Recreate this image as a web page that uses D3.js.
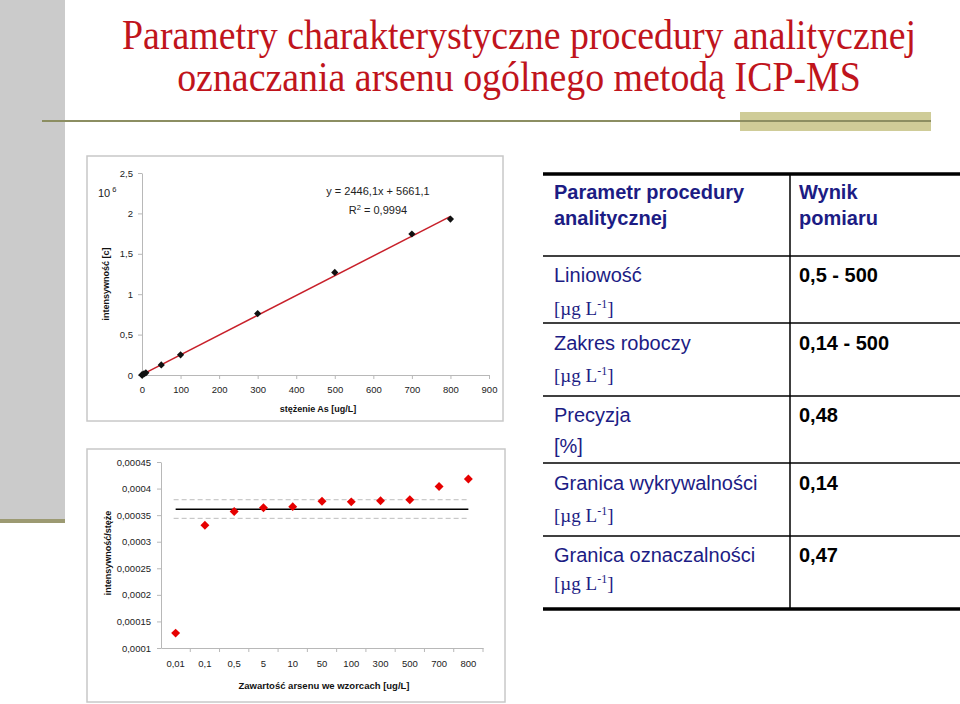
<!DOCTYPE html>
<html>
<head>
<meta charset="utf-8">
<script src="https://cdn.jsdelivr.net/npm/d3@7"></script>
<style>
  body { margin: 0; background: #fff; }
  svg { display: block; }
  .axis path, .axis line { stroke: #b8b8b8; }
  .axis text { font-family: "Liberation Sans", Arial, sans-serif; fill: #222; }
</style>
</head>
<body>
<svg id="slide" width="960" height="704"></svg>
<script>
// title
var titleLines = ['Parametry charakterystyczne procedury analitycznej', 'oznaczania arsenu ogólnego metodą ICP-MS'];
var titleWidth = 794;

// calibration curve (intensity in 10^6 c)
var calConc = [0.01, 0.1, 0.5, 5, 10, 50, 100, 300, 500, 700, 800];
var calIntensity = [0.0001, 0.0003, 0.0014, 0.0137, 0.0275, 0.125, 0.25, 0.76, 1.27, 1.745, 1.93];
var fitSlope = 2446.1, fitIntercept = 5661.1;
var topXTicks = [0, 100, 200, 300, 400, 500, 600, 700, 800, 900];
var topYTicks = [0, 0.5, 1, 1.5, 2, 2.5];

// response ratio chart
var ratioCategories = ['0,01', '0,1', '0,5', '5', '10', '50', '100', '300', '500', '700', '800'];
var ratioValues = [0.000128, 0.000331, 0.000357, 0.000364, 0.000366, 0.000376, 0.000375, 0.000377, 0.000379, 0.000404, 0.000418];
var ratioMean = 0.000361;
var ratioLimits = [0.000344, 0.000379];
var ratioYTicks = [0.0001, 0.00015, 0.0002, 0.00025, 0.0003, 0.00035, 0.0004, 0.00045];

// table
var tableHeader = [['Parametr procedury', 'analitycznej'], ['Wynik', 'pomiaru']];
var tableNames = ['Liniowość', 'Zakres roboczy', 'Precyzja', 'Granica wykrywalności', 'Granica oznaczalności'];
var tableUnits = ['ug', 'ug', '%', 'ug', 'ug'];
var tableValues = ['0,5 - 500', '0,14 - 500', '0,48', '0,14', '0,47'];

var svg = d3.select('#slide');
var sans = '"Liberation Sans", Arial, sans-serif';
var serif = '"Liberation Serif", "Times New Roman", serif';
var comma = function (d) { return String(+d.toFixed(6)).replace('.', ','); };

// slide decoration
svg.append('rect').attr('x', 0).attr('y', 0).attr('width', 65).attr('height', 519).attr('fill', '#cbcbcb');
svg.append('rect').attr('x', 0).attr('y', 519).attr('width', 65).attr('height', 4).attr('fill', '#9c9a72');
svg.append('rect').attr('x', 740).attr('y', 112).attr('width', 191).attr('height', 19).attr('fill', '#cfcc98');
svg.append('line').attr('x1', 42).attr('x2', 931).attr('y1', 121).attr('y2', 121)
    .attr('stroke', '#8c8e62').attr('stroke-width', 2);

// title: one text, two lines, squeezed horizontally
var tg = svg.append('g');
var title = tg.append('text')
    .attr('text-anchor', 'middle')
    .attr('font-family', serif).attr('font-size', 43).attr('fill', '#c0141c');
title.selectAll('tspan').data(titleLines).enter().append('tspan')
    .attr('x', 0).attr('dy', function (d, i) { return i === 0 ? 0 : 42; })
    .text(function (d) { return d; });
var w0 = title.select('tspan').node().getComputedTextLength();
tg.attr('transform', 'translate(519,49) scale(' + (titleWidth / w0) + ',1)');

// ---------- top chart: calibration ----------
svg.append('rect').attr('x', 87).attr('y', 156).attr('width', 416).attr('height', 265)
    .attr('fill', '#fff').attr('stroke', '#c8c8c8').attr('stroke-width', 1.5);

var x1 = d3.scaleLinear().domain([0, 900]).range([142, 489]);
var y1 = d3.scaleLinear().domain([0, 2.5]).range([375, 173]);

svg.append('g').attr('class', 'axis').attr('transform', 'translate(0,375)')
    .call(d3.axisBottom(x1).tickValues(topXTicks).tickSize(4).tickSizeOuter(0).tickPadding(7))
    .selectAll('text').attr('font-size', 9.5);
svg.append('g').attr('class', 'axis').attr('transform', 'translate(142,0)')
    .call(d3.axisLeft(y1).tickValues(topYTicks).tickFormat(comma).tickSize(4).tickSizeOuter(0).tickPadding(5))
    .selectAll('text').attr('font-size', 9.5);
svg.selectAll('.axis .domain').attr('stroke', '#c4c4c4');

svg.append('line')
    .attr('x1', x1(0)).attr('y1', y1(fitIntercept / 1e6))
    .attr('x2', x1(800)).attr('y2', y1((fitSlope * 800 + fitIntercept) / 1e6))
    .attr('stroke', '#c8202a').attr('stroke-width', 1.5);

svg.append('g').selectAll('path').data(calConc).enter().append('path')
    .attr('d', d3.symbol(d3.symbolSquare, 26))
    .attr('transform', function (d, i) { return 'translate(' + x1(d) + ',' + y1(calIntensity[i]) + ') rotate(45)'; })
    .attr('fill', '#111');

var eq = svg.append('g').attr('font-family', sans).attr('font-size', 11).attr('fill', '#222').attr('text-anchor', 'middle');
eq.append('text').attr('x', 378).attr('y', 195).text('y = 2446,1x + 5661,1');
var r2 = eq.append('text').attr('x', 378).attr('y', 214);
r2.append('tspan').text('R');
r2.append('tspan').attr('font-size', 7.5).attr('dy', -4).text('2');
r2.append('tspan').attr('dy', 4).text(' = 0,9994');

var pow = svg.append('text').attr('x', 98).attr('y', 197).attr('font-family', sans).attr('font-size', 11).attr('fill', '#222');
pow.append('tspan').text('10');
pow.append('tspan').attr('font-size', 7.5).attr('dx', 2).attr('dy', -5).text('6');

svg.append('text').attr('transform', 'translate(109,284) rotate(-90)')
    .attr('text-anchor', 'middle').attr('font-family', sans).attr('font-size', 9).attr('font-weight', 'bold')
    .attr('fill', '#111').text('intensywność [c]');
svg.append('text').attr('x', 318).attr('y', 412)
    .attr('text-anchor', 'middle').attr('font-family', sans).attr('font-size', 9).attr('font-weight', 'bold')
    .attr('fill', '#111').text('stężenie As [ug/L]');

// ---------- bottom chart: response ratio ----------
svg.append('rect').attr('x', 87).attr('y', 449).attr('width', 418).attr('height', 253)
    .attr('fill', '#fff').attr('stroke', '#c8c8c8').attr('stroke-width', 1.5);

var x2 = d3.scaleBand().domain(ratioCategories).range([161, 483]).padding(0);
var y2 = d3.scaleLinear().domain([0.0001, 0.00045]).range([648, 462]);

var xAx2 = svg.append('g').attr('class', 'axis').attr('transform', 'translate(0,648)')
    .call(d3.axisBottom(x2).tickSize(0).tickPadding(12));
xAx2.selectAll('text').attr('font-size', 9.5);
// tick marks between categories
xAx2.selectAll('line.sep').data(ratioCategories).enter().append('line').attr('class', 'sep')
    .attr('x1', function (d) { return x2(d) + x2.bandwidth(); }).attr('x2', function (d) { return x2(d) + x2.bandwidth(); })
    .attr('y1', 0).attr('y2', 4);
svg.append('g').attr('class', 'axis').attr('transform', 'translate(161,0)')
    .call(d3.axisLeft(y2).tickValues(ratioYTicks).tickFormat(comma).tickSize(4).tickSizeOuter(0).tickPadding(6))
    .selectAll('text').attr('font-size', 9.5);
svg.selectAll('.axis .domain').attr('stroke', '#c4c4c4');
svg.selectAll('.axis line').attr('stroke', '#b8b8b8');

var cx0 = x2(ratioCategories[0]) + x2.bandwidth() / 2;
var cx1 = x2(ratioCategories[ratioCategories.length - 1]) + x2.bandwidth() / 2;
svg.append('g').selectAll('line').data(ratioLimits).enter().append('line')
    .attr('x1', cx0 - 2).attr('x2', cx1).attr('y1', function (d) { return y2(d); }).attr('y2', function (d) { return y2(d); })
    .attr('stroke', '#bdbdbd').attr('stroke-width', 1).attr('stroke-dasharray', '5,3');
svg.append('line').attr('x1', cx0).attr('x2', cx1).attr('y1', y2(ratioMean)).attr('y2', y2(ratioMean))
    .attr('stroke', '#000').attr('stroke-width', 1.5);

svg.append('g').selectAll('path').data(ratioValues).enter().append('path')
    .attr('d', d3.symbol(d3.symbolSquare, 40))
    .attr('transform', function (d, i) {
        return 'translate(' + (x2(ratioCategories[i]) + x2.bandwidth() / 2) + ',' + y2(d) + ') rotate(45)';
    })
    .attr('fill', '#e60000');

svg.append('text').attr('transform', 'translate(111,553) rotate(-90)')
    .attr('text-anchor', 'middle').attr('font-family', sans).attr('font-size', 9).attr('font-weight', 'bold')
    .attr('fill', '#111').text('intensywność/stęże');
svg.append('text').attr('x', 324).attr('y', 689)
    .attr('text-anchor', 'middle').attr('font-family', sans).attr('font-size', 9.5).attr('font-weight', 'bold')
    .attr('fill', '#111').text('Zawartość arsenu we wzorcach [ug/L]');

// ---------- table ----------
var navy = '#1c1c84';
var rowLines = [256, 323, 396, 463, 536];
var nameBase = [282, 350, 422, 490, 562];
var unitBase = [315, 382, 453, 522, 590];

var tbl = svg.append('g');
tbl.append('line').attr('x1', 543).attr('x2', 960).attr('y1', 174).attr('y2', 174).attr('stroke', '#000').attr('stroke-width', 3.5);
tbl.append('line').attr('x1', 543).attr('x2', 960).attr('y1', 609).attr('y2', 609).attr('stroke', '#000').attr('stroke-width', 3.5);
tbl.selectAll('line.row').data(rowLines).enter().append('line').attr('class', 'row')
    .attr('x1', 543).attr('x2', 960).attr('y1', function (d) { return d; }).attr('y2', function (d) { return d; })
    .attr('stroke', '#000').attr('stroke-width', 1.5);
tbl.append('line').attr('x1', 790).attr('x2', 790).attr('y1', 174).attr('y2', 609).attr('stroke', '#000').attr('stroke-width', 1.5);

tableHeader.forEach(function (lines, c) {
    lines.forEach(function (t, j) {
        tbl.append('text').attr('x', c === 0 ? 554 : 799).attr('y', 199 + j * 26)
            .attr('font-family', sans).attr('font-size', 20).attr('font-weight', 'bold').attr('fill', navy).text(t);
    });
});

tableNames.forEach(function (name, i) {
    tbl.append('text').attr('x', 554).attr('y', nameBase[i])
        .attr('font-family', sans).attr('font-size', 20).attr('fill', navy).text(name);
    if (tableUnits[i] === '%') {
        tbl.append('text').attr('x', 554).attr('y', unitBase[i])
            .attr('font-family', sans).attr('font-size', 20).attr('fill', navy).text('[%]');
    } else {
        var u = tbl.append('text').attr('x', 554).attr('y', unitBase[i])
            .attr('font-family', serif).attr('font-size', 19).attr('fill', navy);
        u.append('tspan').text('[\u00b5g L');
        u.append('tspan').attr('font-size', 12).attr('dy', -7).text('-1');
        u.append('tspan').attr('dy', 7).text(']');
    }
    tbl.append('text').attr('x', 799).attr('y', nameBase[i])
        .attr('font-family', sans).attr('font-size', 20).attr('font-weight', 'bold').attr('fill', '#000').text(tableValues[i]);
});
</script>
</body>
</html>
